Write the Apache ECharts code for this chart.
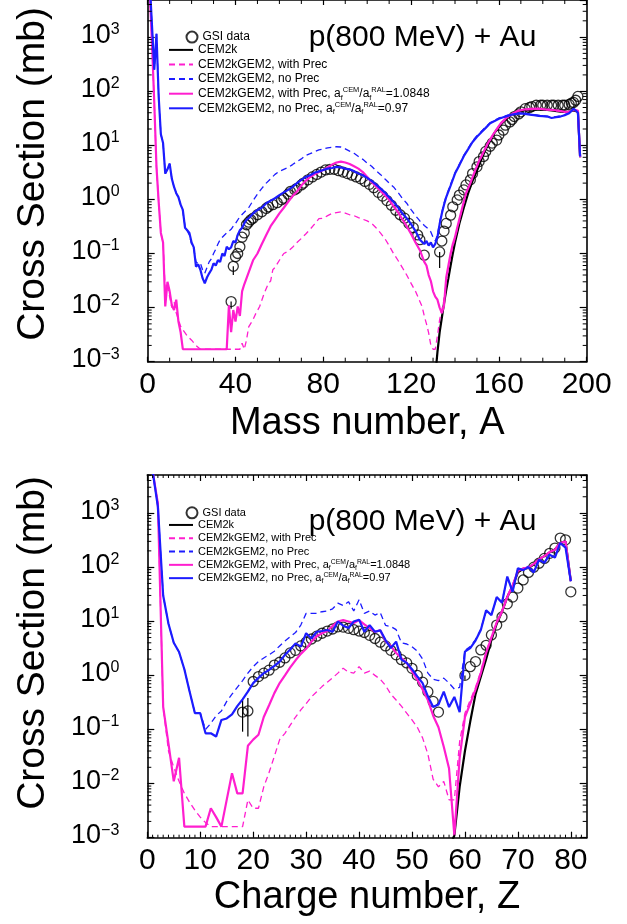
<!DOCTYPE html>
<html><head><meta charset="utf-8">
<script src="https://cdn.jsdelivr.net/npm/echarts@6/dist/echarts.min.js"></script>
<style>html,body{margin:0;padding:0;background:#fff}#c{width:627px;height:924px}</style>
</head><body><div id="c"></div><script>
// ---------------- DATA ----------------
const seriesNames = ['GSI data','CEM2k','CEM2kGEM2, with Prec','CEM2kGEM2, no Prec',
  'CEM2kGEM2, with Prec, af(CEM)/af(RAL)=1.0848','CEM2kGEM2, no Prec, af(CEM)/af(RAL)=0.97'];
const yTickExponents = [-3,-2,-1,0,1,2,3];
const massTicks = [0,40,80,120,160,200];
const chargeTicks = [0,10,20,30,40,50,60,70,80];

// Top panel: mass number A
const massGSI = [[38,0.0129],[39,0.058],[40,0.087],[41,0.1],[42,0.133],[43,0.2],[44,0.24],[45,0.34],[46,0.38],[47,0.42],[48,0.45],[50,0.52],[52,0.59],[54,0.68],[55,0.73],[57,0.8],[59,0.87],[61,0.98],[62,1.05],[64,1.25],[65,1.4],[67,1.5],[68,1.6],[70,1.85],[71,2.0],[73,2.3],[75,2.6],[77,2.9],[79,3.2],[81,3.5],[83,3.6],[85,3.6],[87,3.4],[89,3.2],[91,3.0],[93,2.8],[95,2.6],[97,2.4],[99,2.15],[101,1.9],[103,1.65],[105,1.35],[107,1.15],[109,0.95],[111,0.78],[113,0.63],[115,0.52],[117,0.45],[119,0.36],[121,0.3],[123,0.22],[124,0.18],[126,0.093],
  [133,0.107],[134,0.17],[135,0.26],[136,0.36],[138,0.51],[139,0.73],[141,0.98],[142,1.2],[144,1.5],[145,1.85],[147,2.3],[148,3.0],[150,4.0],[151,5.0],[153,6.2],[154,7.7],[156,9.6],[157,11],[159,12.5],[160,15.5],[162,19],[163,23.5],[165,27],[166,30],[167,34],[169,38],[170,41.5],[172,47.5],[174,50],[175,52],[177,55],[179,55],[180,55],[182,55],[184,55],[185,55],[187,55],[189,55],[190,55],[192,57],[193,60],[194,62],[195,68],[196,80]];
const massGSIErr = [[38,0.0095,0.0129],[39,0.04,0.058],[133,0.054,0.107]];
const massCEM2k = [[131.5,0.0009],[132,0.0015],[133,0.0035],[134,0.0065],[135,0.012],[136,0.021],[137,0.035],[138,0.06],[139,0.1],[140,0.16],[142,0.36],[144,0.7],[146,1.3],[148,2.2],[150,3.4],[152,5.5],[154,8.5],[156,12],[158,17],[160,22],[162,27],[164,32],[166,38],[168,41],[170,43],[173,45],[176,46],[180,46],[184,44],[188,42],[191,41],[194,44],[196,42],[197,6]];
const massWithPrec = [[1,6000],[2,700],[3,60],[4,4],[5,0.9],[6,0.24],[7,0.16],[8,0.02],[9,0.024],[10,0.016],[11,0.01],[12,0.013],[13,0.008],[14,0.006],[15,0.0045],[16,0.0039],[18,0.003],[20,0.0025],[22,0.002],[24,0.0017],[30,0.0017],[36,0.0017],[42,0.0017],[43,0.0022],[44,0.0017],[45,0.0025],[46,0.0044],[48,0.006],[49,0.0074],[51,0.0105],[53,0.018],[55,0.028],[56,0.031],[57,0.05],[58,0.055],[60,0.075],[62,0.1],[64,0.11],[66,0.13],[68,0.16],[70,0.19],[72,0.23],[74,0.28],[76,0.35],[78,0.44],[80,0.45],[82,0.5],[84,0.55],[86,0.57],[88,0.59],[90,0.56],[92,0.52],[94,0.5],[96,0.46],[98,0.43],[100,0.4],[102,0.36],[104,0.3],[106,0.24],[108,0.19],[110,0.14],[112,0.1],[114,0.075],[116,0.055],[118,0.04],[120,0.028],[122,0.02],[124,0.013],[125,0.0105],[126,0.007],[127,0.005],[128,0.0034],[129,0.002],[130,0.0017],[131,0.0017],[132,0.003],[133,0.006],[134,0.009],[135,0.014],[136,0.03],[137,0.055],[138,0.09],[140,0.19],[141,0.28],[143,0.6],[145,1.25],[147,2.0],[149,3.2],[151,5.0],[153,7.3],[155,10.5],[157,14.5],[159,19.5],[161,25],[163,30],[165,35],[167,39],[169,43],[172,45],[175,46],[178,47],[181,45.5],[184,44.5],[187,43],[190,41],[192,42],[194,44],[196,43],[197,6]];
const massNoPrec = [[1,9000],[2,1500],[3,250],[4,1150],[5,80],[6,16],[7,11],[8,3.0],[9,3.6],[10,4.6],[11,2.4],[12,1.7],[13,1.3],[14,1.1],[15,0.8],[16,0.6],[17,0.32],[18,0.26],[19,0.22],[20,0.15],[21,0.12],[22,0.07],[23,0.065],[24,0.066],[25,0.05],[26,0.043],[27,0.055],[28,0.07],[29,0.08],[30,0.1],[31,0.12],[32,0.15],[33,0.18],[34,0.2],[35,0.22],[36,0.24],[38,0.28],[39,0.32],[40,0.36],[42,0.48],[44,0.58],[46,0.7],[48,0.95],[50,1.25],[52,1.6],[54,2.0],[56,2.4],[58,2.9],[60,3.3],[62,3.6],[64,3.9],[66,4.4],[68,5.0],[70,5.6],[72,6.5],[74,7.0],[76,7.6],[78,8.2],[80,8.5],[82,9.0],[84,9.2],[86,9.4],[88,9.3],[90,8.6],[92,7.8],[94,7.1],[96,6.2],[98,5.5],[100,4.7],[102,4.1],[104,3.4],[106,2.9],[108,2.4],[110,2.0],[112,1.7],[114,1.35],[116,1.05],[118,0.85],[120,0.65],[122,0.5],[124,0.4],[126,0.33],[128,0.28],[129,0.25],[130,0.2],[131,0.17],[132,0.22],[133,0.38],[134,0.58],[135,0.85],[136,1.15],[138,1.9],[140,3.1],[142,4.5],[144,6.5],[146,8.8],[148,12],[150,15],[152,18],[154,22],[156,26],[158,29],[160,32],[162,34],[164,36],[166,38],[168,39],[170,40],[172,39],[174,38],[176,37],[178,36],[180,35],[182,34.5],[184,33],[186,34],[188,35],[190,37],[192,40],[194,46],[195,45],[196,41],[197,6.5]];
const massWithPrecScaled = [[1,6000],[2,700],[3,60],[4,4],[5,0.9],[6,0.24],[7,0.16],[8,0.0105],[9,0.03],[10,0.02],[11,0.011],[12,0.009],[13,0.014],[14,0.0055],[15,0.0035],[16,0.0017],[20,0.0017],[25,0.0017],[30,0.0017],[36,0.0017],[37,0.011],[38,0.0035],[39,0.009],[40,0.0055],[41,0.0105],[42,0.007],[43,0.02],[44,0.027],[46,0.045],[48,0.075],[50,0.1],[52,0.15],[54,0.22],[56,0.32],[58,0.42],[60,0.55],[62,0.7],[64,0.9],[66,1.15],[68,1.4],[70,1.8],[72,2.2],[74,2.6],[76,2.9],[78,3.2],[80,3.5],[82,3.9],[84,4.4],[86,4.8],[88,5.0],[90,4.8],[92,4.5],[94,4.1],[96,3.7],[98,3.2],[100,2.6],[102,2.1],[104,1.75],[106,1.45],[108,1.2],[110,0.98],[112,0.75],[114,0.58],[116,0.43],[118,0.32],[120,0.23],[122,0.16],[124,0.115],[126,0.07],[127,0.06],[128,0.04],[129,0.031],[130,0.02],[131,0.016],[132,0.014],[133,0.01],[134,0.0079],[135,0.011],[136,0.036],[137,0.06],[138,0.1],[139,0.15],[140,0.2],[141,0.3],[143,0.63],[145,1.3],[147,2.0],[149,3.3],[151,5.2],[153,7.5],[155,11],[157,15],[159,20],[161,26],[163,31],[165,36],[167,40],[169,44],[172,46],[175,47],[178,47.5],[181,46],[184,45],[187,44],[190,41.5],[192,42],[194,45],[196,44],[197,6]];
const massNoPrecScaled = [[1,9000],[2,1500],[3,250],[4,1150],[5,80],[6,16],[7,11],[8,3.0],[9,3.6],[10,4.6],[11,2.4],[12,1.7],[13,1.3],[14,1.1],[15,0.8],[16,0.64],[17,0.3],[18,0.27],[19,0.24],[20,0.16],[21,0.13],[22,0.057],[23,0.063],[24,0.05],[25,0.035],[26,0.028],[27,0.036],[28,0.043],[29,0.05],[30,0.066],[31,0.06],[32,0.075],[33,0.07],[34,0.1],[35,0.09],[36,0.133],[37,0.12],[38,0.13],[39,0.17],[40,0.16],[41,0.22],[42,0.27],[43,0.3],[44,0.36],[45,0.42],[46,0.45],[48,0.55],[50,0.64],[52,0.7],[54,0.85],[56,0.95],[58,1.05],[60,1.2],[62,1.35],[64,1.5],[66,1.7],[68,2.0],[70,2.3],[72,2.6],[74,2.8],[76,3.1],[78,3.3],[80,3.5],[82,3.7],[84,3.8],[86,4.0],[88,3.9],[90,3.7],[92,3.6],[94,3.3],[96,3.0],[98,2.8],[100,2.5],[102,2.2],[104,1.9],[106,1.6],[108,1.35],[110,1.1],[112,0.9],[114,0.72],[116,0.55],[118,0.45],[120,0.35],[122,0.26],[124,0.18],[126,0.15],[127,0.17],[128,0.14],[129,0.16],[130,0.13],[131,0.15],[132,0.2],[133,0.35],[134,0.55],[135,0.8],[136,1.1],[138,1.8],[140,3.0],[142,4.3],[144,6.3],[146,8.5],[148,11.5],[150,14.4],[152,17.5],[154,21],[156,25.5],[158,28],[160,31],[162,33],[164,35],[166,37],[168,38],[170,39],[172,38],[174,37],[176,36],[178,35],[180,34.5],[182,34],[184,32],[186,33],[188,34],[190,36],[192,39],[194,47.5],[195,44],[196,40],[197,6.2]];

// Bottom panel: charge number Z
const chargeGSI = [[18,0.21],[19,0.22],[20,0.77],[21,0.95],[22,1.1],[23,1.25],[24,1.55],[25,1.75],[26,2.1],[27,2.6],[28,2.9],[29,3.5],[30,4.1],[31,4.7],[32,5.3],[33,6.0],[34,6.6],[35,7.2],[36,7.9],[37,7.8],[38,7.4],[39,7.0],[40,6.6],[41,6.2],[42,5.5],[43,4.8],[44,4.1],[45,3.5],[46,2.9],[47,2.4],[48,1.95],[49,1.7],[50,1.35],[51,1.0],[52,0.75],[53,0.5],[54,0.33],[55,0.21],[60,1.0],[61,1.45],[62,1.8],[63,2.95],[64,3.6],[65,5.6],[66,8.5],[67,12],[68,21],[69,28],[70,41],[71,58],[72,80],[73,100],[74,118],[75,145],[76,180],[77,225],[78,345],[79,320],[80,35]];
const chargeGSIErr = [[18,0.091,0.35],[19,0.074,0.38],[60,0.83,1.0]];
const chargeCEM2k = [[57.6,0.0009],[58,0.0011],[59,0.0087],[60,0.04],[61,0.14],[62,0.45],[63,0.95],[64,2.0],[65,4.5],[66,9],[67,15],[68,28],[69,44],[70,80],[71,93],[72,97],[73,112],[74,140],[75,160],[76,188],[77,212],[78,280],[79,300],[80,55]];
const chargeWithPrec = [[1,6000],[2,1500],[3,0.26],[4,0.04],[5,0.02],[6,0.011],[7,0.0066],[8,0.0045],[9,0.0032],[10,0.0024],[11,0.0019],[12,0.0016],[14,0.0016],[16,0.0016],[18,0.0016],[19,0.005],[20,0.0035],[21,0.0035],[22,0.0087],[23,0.016],[24,0.032],[25,0.065],[26,0.085],[27,0.12],[28,0.17],[29,0.23],[30,0.3],[31,0.4],[32,0.5],[33,0.62],[34,0.75],[35,0.9],[36,1.1],[37,1.36],[38,1.15],[39,1.1],[40,1.45],[41,1.1],[42,1.2],[43,1.0],[44,0.85],[45,0.65],[46,0.45],[47,0.35],[48,0.27],[49,0.2],[50,0.15],[51,0.11],[52,0.07],[53,0.035],[54,0.012],[55,0.0087],[56,0.011],[57,0.005],[58,0.005],[59,0.06],[60,0.2],[61,0.35],[62,0.6],[63,1.2],[64,2.8],[65,5.2],[66,10],[67,16],[68,30],[69,47],[70,88],[71,95],[72,100],[73,115],[74,140],[75,165],[76,190],[77,215],[78,285],[79,300],[80,55]];
const chargeNoPrec = [[1,6000],[2,1300],[3,30],[4,9],[5,4],[6,2.7],[7,1.3],[8,0.5],[9,0.2],[10,0.2],[11,0.1],[12,0.13],[13,0.18],[14,0.22],[15,0.33],[16,0.45],[17,0.6],[18,0.8],[19,1.1],[20,1.45],[21,1.8],[22,2.1],[23,2.4],[24,2.8],[25,3.5],[26,4.3],[27,5.2],[28,6.2],[29,8.5],[30,14],[31,14],[32,14],[33,15],[34,15.5],[35,17],[36,21.6],[37,19.5],[38,23],[39,15.5],[40,25],[41,14],[42,15.5],[43,13],[44,14.5],[45,8.4],[46,8],[47,7],[48,4],[49,3.8],[50,3.4],[51,2.8],[52,2.0],[53,1.1],[54,0.85],[55,0.8],[56,0.89],[57,0.72],[58,0.56],[59,0.6],[60,2.9],[61,3.4],[62,4.6],[63,7.2],[64,15],[65,13.5],[66,27],[67,23],[68,64],[69,37],[70,92],[71,90],[72,105],[73,85],[74,130],[75,125],[76,165],[77,155],[78,270],[79,235],[80,55]];
const chargeWithPrecScaled = [[1,6000],[2,1500],[3,0.26],[4,0.055],[5,0.011],[6,0.03],[7,0.0016],[8,0.0016],[9,0.0016],[10,0.0016],[11,0.0016],[12,0.0035],[13,0.0024],[14,0.0016],[15,0.005],[16,0.0155],[17,0.0066],[18,0.0066],[19,0.05],[20,0.065],[21,0.08],[22,0.17],[23,0.28],[24,0.47],[25,0.72],[26,1.0],[27,1.4],[28,1.9],[29,2.5],[30,3.1],[31,4.2],[32,5.3],[33,6.0],[34,6.6],[35,8.2],[36,9.9],[37,10.5],[38,9.9],[39,9.3],[40,10.5],[41,8.8],[42,7.5],[43,6.4],[44,6.8],[45,4.3],[46,3.5],[47,2.6],[48,2.1],[49,1.7],[50,1.2],[51,0.83],[52,0.55],[53,0.35],[54,0.18],[55,0.11],[56,0.048],[57,0.019],[58,0.0011],[59,0.03],[60,0.17],[61,0.3],[62,0.55],[63,1.1],[64,2.6],[65,5.0],[66,9.5],[67,15],[68,28],[69,45],[70,85],[71,95],[72,98],[73,115],[74,140],[75,160],[76,190],[77,210],[78,280],[79,300],[80,55]];
const chargeNoPrecScaled = [[1,6000],[2,1300],[3,30],[4,9],[5,4],[6,2.7],[7,1.3],[8,0.5],[9,0.2],[10,0.2],[11,0.085],[12,0.085],[13,0.074],[14,0.15],[15,0.16],[16,0.19],[17,0.27],[18,0.36],[19,0.5],[20,0.72],[21,0.9],[22,1.1],[23,1.26],[24,1.5],[25,1.8],[26,2.4],[27,3.0],[28,3.9],[29,3.4],[30,6.0],[31,4.8],[32,6.4],[33,6.6],[34,6.9],[35,6.4],[36,9.9],[37,8.3],[38,7.5],[39,9.9],[40,10.7],[41,6.4],[42,8.5],[43,6.4],[44,6.8],[45,4.5],[46,3.2],[47,4.2],[48,1.95],[49,1.7],[50,1.3],[51,0.96],[52,0.72],[53,0.41],[54,0.26],[55,0.29],[56,0.5],[57,0.26],[58,0.4],[59,0.21],[60,2.75],[61,3.2],[62,4.4],[63,6.9],[64,16],[65,13],[66,28],[67,22],[68,67],[69,35],[70,95],[71,88],[72,100],[73,80],[74,137],[75,120],[76,170],[77,150],[78,280],[79,230],[80,55]];

// ---------------- STYLE / LAYOUT ----------------
const FONT = '"Liberation Sans", Arial, Helvetica, sans-serif';
const PINK = '#ff1ecf', BLUE = '#1c1cff', BLACK = '#000';
const Y_MIN = 0.001;
const panels = [
  {grid:{left:147.7, top:0, width:439, height:361.7}, xMax:200, xInterval:40, xMinorStep:10, yMax:4850,
   xName:'Mass number, A', xNameY:424, yNameY:174, legendTop:28, legendFont:12, legendLH:14.6, titleY:38, majorLen:5, minorLen:4,
   data:[massGSI, massGSIErr, massCEM2k, massWithPrec, massNoPrec, massWithPrecScaled, massNoPrecScaled]},
  {grid:{left:147.3, top:475, width:439.4, height:362.7}, xMax:83, xInterval:10, xMinorStep:1, yMax:5050,
   xName:'Charge number, Z', xNameY:898, yNameY:643, legendTop:505, legendFont:11, legendLH:13.3, titleY:522, majorLen:6, minorLen:3,
   data:[chargeGSI, chargeGSIErr, chargeCEM2k, chargeWithPrec, chargeNoPrec, chargeWithPrecScaled, chargeNoPrecScaled]}
];

const richLegend = (fs) => ({
  sub:{fontSize:fs*0.62, lineHeight:fs*0.62, verticalAlign:'bottom', fontFamily:FONT, color:'#000'},
  sup:{fontSize:fs*0.62, lineHeight:fs*0.62, verticalAlign:'top', fontFamily:FONT, color:'#000'}
});
function legendFmt(name){
  if (name === seriesNames[4]) return 'CEM2kGEM2, with Prec, a{sub|f}{sup|CEM}/a{sub|f}{sup|RAL}=1.0848';
  if (name === seriesNames[5]) return 'CEM2kGEM2, no Prec, a{sub|f}{sup|CEM}/a{sub|f}{sup|RAL}=0.97';
  return name;
}
function expLabel(v){
  const e = Math.round(Math.log10(v));
  return '{b|10}{s|' + (e < 0 ? '\u2212' + (-e) : String(e)) + '}';
}

// minor tick positions (axis decoration, not data)
function logMinorTicks(max){
  const out = [];
  for (let e = -3; e <= 3; e++) for (let m = 2; m <= 9; m++){ const v = m*Math.pow(10,e); if (v < max) out.push(v); }
  return out;
}

const xAxes = [], yAxes = [], grids = [], series = [], legends = [], graphics = [];
panels.forEach((p, gi) => {
  grids.push(Object.assign({outerBoundsMode:'none', containLabel:false}, p.grid));
  const axisLine = {show:true, onZero:false, lineStyle:{color:BLACK, width:1.6}};
  const tickStyle = {color:BLACK, width:1.2};
  [ 'bottom', 'top' ].forEach((pos) => {
    xAxes.push({gridIndex:gi, type:'value', position:pos, min:0, max:p.xMax, interval:p.xInterval,
      axisLine, splitLine:{show:false},
      axisTick:{show:true, inside:true, length:p.majorLen, lineStyle:tickStyle},
      axisLabel:{show:pos==='bottom', color:BLACK, fontFamily:FONT, fontSize:30, margin:8, showMaxLabel:p.xMax % p.xInterval === 0}});
  });
  [ 'left', 'right' ].forEach((pos) => {
    yAxes.push({gridIndex:gi, type:'log', logBase:10, position:pos, min:Y_MIN, max:p.yMax,
      axisLine, splitLine:{show:false}, minorTick:{show:false},
      axisTick:{show:true, inside:true, length:7, lineStyle:tickStyle},
      axisLabel:{show:pos==='left', formatter:expLabel, showMaxLabel:false, margin:28, padding:[0,0,4,0],
        rich:{b:{fontSize:27, lineHeight:27, padding:[4,0,0,0], verticalAlign:'bottom', fontFamily:FONT, color:BLACK},
              s:{fontSize:16, lineHeight:16, verticalAlign:'top', fontFamily:FONT, color:BLACK}}}});
  });
  const xi = gi*2, yi = gi*2;
  const [gsi, err, cem, wp, np, wpa, npa] = p.data;
  series.push({name:seriesNames[0], type:'scatter', xAxisIndex:xi, yAxisIndex:yi, data:gsi, symbol:'circle', symbolSize:10,
    itemStyle:{color:'rgba(255,255,255,0)', borderColor:BLACK, borderWidth:1.3}, z:3});
  series.push({type:'custom', xAxisIndex:xi, yAxisIndex:yi, data:err, silent:true, z:3,
    renderItem:(params, api) => {
      const a = api.coord([api.value(0), api.value(1)]), b = api.coord([api.value(0), api.value(2)]);
      return {type:'line', shape:{x1:a[0], y1:a[1], x2:b[0], y2:b[1]}, style:{stroke:BLACK, lineWidth:1.2}};
    }});
  const line = (name, data, color, dashed) => ({name, type:'line', xAxisIndex:xi, yAxisIndex:yi, data, symbol:'none', showSymbol:false,
    clip:true, z:4, lineStyle:{color, width:dashed?1.3:2.2, type:dashed?[6,4]:'solid'}, itemStyle:{color, opacity:0}});
  series.push(line(seriesNames[1], cem, BLACK, false));
  series.push(line(seriesNames[2], wp, PINK, true));
  series.push(line(seriesNames[3], np, BLUE, true));
  series.push(line(seriesNames[4], wpa, PINK, false));
  series.push(line(seriesNames[5], npa, BLUE, false));
  // minor ticks on all four frame sides
  const tickData = [];
  logMinorTicks(p.yMax).forEach(v => tickData.push([0, v, 1]));
  for (let x = p.xMinorStep; x < p.xMax; x += p.xMinorStep) if (Math.abs(x % p.xInterval) > 1e-9) tickData.push([x, 1, 0]);
  series.push({type:'custom', xAxisIndex:xi, yAxisIndex:yi, data:tickData, silent:true, z:5,
    renderItem:(params, api) => {
      const cs = params.coordSys, st = {stroke:BLACK, lineWidth:1};
      if (api.value(2) === 1){
        const y = api.coord([0, api.value(1)])[1];
        return {type:'group', children:[
          {type:'line', shape:{x1:cs.x, y1:y, x2:cs.x+4, y2:y}, style:st},
          {type:'line', shape:{x1:cs.x+cs.width, y1:y, x2:cs.x+cs.width-4, y2:y}, style:st}]};
      }
      const x = api.coord([api.value(0), 1])[0];
      return {type:'group', children:[
        {type:'line', shape:{x1:x, y1:cs.y+cs.height, x2:x, y2:cs.y+cs.height-p.minorLen}, style:st},
        {type:'line', shape:{x1:x, y1:cs.y, x2:x, y2:cs.y+p.minorLen}, style:st}]};
    }});
  const legText = {fontSize:p.legendFont, lineHeight:p.legendLH, fontFamily:FONT, color:BLACK, rich:richLegend(p.legendFont)};
  // GSI data entry: circle sits at the right end of the icon column
  legends.push({orient:'vertical', left:185.5, top:p.legendTop + (p.legendLH - 11)/2, padding:0, itemGap:0, itemWidth:11, itemHeight:11,
    selectedMode:false, data:[seriesNames[0]], formatter:legendFmt, textStyle:legText});
  legends.push({orient:'vertical', left:168, top:p.legendTop + p.legendLH, padding:0, itemGap:0, itemWidth:24, itemHeight:10,
    selectedMode:false, data:seriesNames.slice(1), formatter:legendFmt, textStyle:legText});
  graphics.push({type:'text', x:422.5, y:p.titleY, style:{text:'p(800 MeV) + Au', fontSize:30, fontFamily:FONT, fill:BLACK, align:'center', verticalAlign:'middle'}});
  graphics.push({type:'text', x:p.grid.left + p.grid.width/2, y:p.xNameY, style:{text:p.xName, fontSize:38, fontFamily:FONT, fill:BLACK, align:'center', verticalAlign:'middle'}});
  graphics.push({type:'text', x:33, y:p.yNameY, rotation:Math.PI/2, style:{text:'Cross Section (mb)', fontSize:39, fontFamily:FONT, fill:BLACK, align:'center', verticalAlign:'middle'}});
});

const chart = echarts.init(document.getElementById('c'), null, {renderer:'canvas'});
chart.setOption({animation:false, backgroundColor:'#fff', grid:grids, xAxis:xAxes, yAxis:yAxes, series, legend:legends, graphic:graphics});
</script></body></html>
